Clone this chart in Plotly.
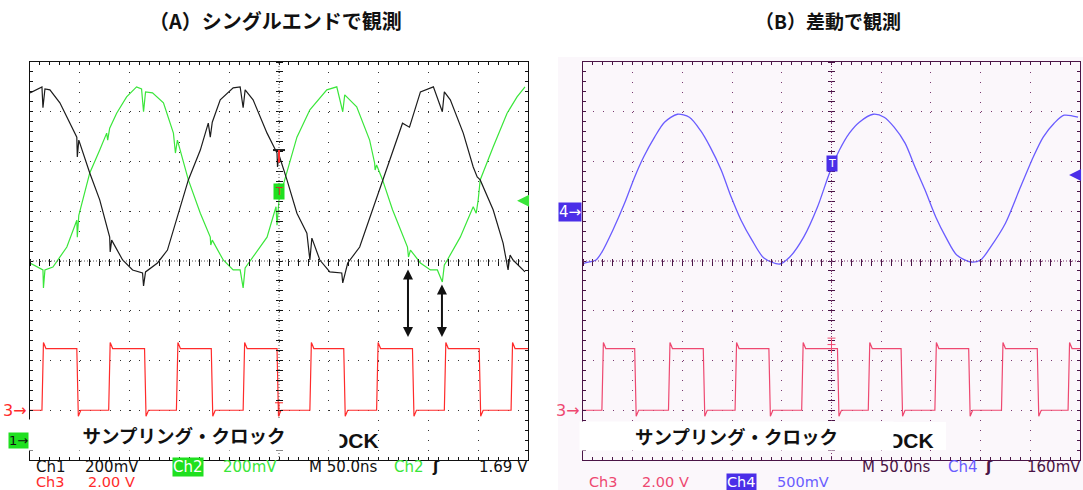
import plotly.graph_objects as go

W, H = 1083, 490

# ---------------- data (time in ns, amplitude in screen divisions) ----------------
time_range = [0, 500]
div_range = [-4, 4]

# Ch1 (black, single-ended +)
ch1_t = [0, 12, 13, 15, 20, 30, 47, 47.5, 49, 60, 70, 80, 80.5, 82, 93, 103, 113, 114, 116, 128,
         138, 148, 153, 159, 171, 179, 181, 183, 191, 204, 211, 214, 216, 224, 238, 248, 248.5, 250,
         258, 268, 278, 281, 283, 291, 301, 313, 314, 319, 331, 344, 354, 364, 374, 381, 392, 405,
         414, 416, 422, 435, 445, 449, 452, 465, 475, 480, 482, 485, 497]
ch1_v = [3.38, 3.50, 3.08, 3.46, 3.44, 3.18, 2.49, 2.09, 2.43, 1.77, 1.23, 0.48, 0.18, 0.42, 0.02,
         -0.18, -0.24, -0.50, -0.22, -0.04, 0.22, 0.88, 1.23, 1.63, 2.23, 2.77, 2.49, 2.79, 3.24,
         3.48, 3.50, 3.08, 3.44, 3.24, 2.57, 2.17, 1.89, 2.13, 1.63, 0.96, 0.56, 0.02, 0.46, 0.02,
         -0.22, -0.24, -0.44, -0.04, 0.28, 1.03, 1.63, 2.17, 2.77, 2.69, 3.40, 3.50, 3.00, 3.40,
         3.24, 2.57, 1.89, 1.69, 1.63, 1.03, 0.36, -0.18, 0.12, 0.02, -0.22]

# Ch2 (green, single-ended -)
ch2_t = [0, 13, 13.5, 15, 23, 37, 47, 47.5, 49, 60, 70, 77, 78, 80, 87, 97, 107, 112, 114, 116,
         123, 134, 144, 146, 148, 159, 171, 181, 181.5, 183, 194, 204, 211, 214, 216, 224, 238,
         247, 248, 250, 258, 268, 281, 298, 308, 314, 316, 328, 341, 346, 346.5, 348, 354, 364,
         379, 380, 382, 392, 402, 409, 414, 416, 419, 432, 445, 448, 450, 452, 465, 479, 489, 497]
ch2_v = [-0.04, -0.18, -0.54, -0.18, -0.12, 0.28, 0.82, 0.48, 0.92, 1.77, 2.23, 2.57, 2.43, 2.67,
         2.97, 3.30, 3.50, 3.46, 3.00, 3.40, 3.38, 3.18, 2.57, 2.17, 2.43, 1.63, 0.96, 0.48, 0.32,
         0.42, 0.02, -0.18, -0.18, -0.54, -0.14, 0.08, 0.48, 1.09, 0.72, 1.23, 1.77, 2.49, 3.04,
         3.44, 3.50, 3.00, 3.34, 3.10, 2.43, 1.97, 1.83, 1.93, 1.63, 1.03, 0.28, 0.08, 0.22, -0.04,
         -0.18, -0.18, -0.42, -0.08, 0.02, 0.48, 1.09, 0.96, 1.23, 1.63, 2.29, 2.97, 3.30, 3.50]

# Ch4 (blue, differential)
ch4_t = [0, 2, 13, 19, 30, 42, 52, 61, 72, 82, 95, 107, 118, 128, 139, 149, 159, 170, 182, 198,
         208, 222, 236, 248, 258, 268, 278, 292, 303, 313, 324, 334, 344, 355, 365, 376, 390, 400,
         410, 425, 439, 453, 463, 474, 484, 498]
ch4_v = [-0.06, -0.04, 0.02, 0.18, 0.62, 1.17, 1.69, 2.09, 2.49, 2.79, 2.95, 2.89, 2.63, 2.29,
         1.83, 1.29, 0.82, 0.42, 0.06, -0.06, 0.08, 0.48, 1.09, 1.77, 2.23, 2.57, 2.79, 2.95, 2.89,
         2.69, 2.37, 1.89, 1.43, 0.88, 0.48, 0.12, -0.02, 0.02, 0.28, 0.76, 1.43, 2.09, 2.49, 2.77,
         2.93, 2.89]

# Ch3 sampling clock edges (ns) and levels (div)
clk_a_rise = [12, 79, 147, 214, 281, 348, 416, 483]
clk_a_fall = [47, 115, 182, 248, 315, 384, 451]
clk_b_rise = [19, 86, 153, 220, 287, 354, 421, 488]
clk_b_fall = [52, 121, 187, 256, 320, 388, 457]
clk_high = -1.76
clk_low = -3.0
clk_over = -1.64
clk_under = -3.12

# double arrows in panel A (ns, div)
arrow_t = [379.5, 413.6]
arrow_top = [-0.14, -0.44]
arrow_bottom = -1.53

trig_level_a = 1.21
trig_level_b = 1.73
trig_box_a = 1.39
trig_box_b = 1.95

title_a = "（A）シングルエンドで観測"
title_b = "（B）差動で観測"
label_jp = "サンプリング・クロック"
label_en = "CLOCK"

# ---------------- styling ----------------
BLACK = "#1c1c1c"
GREEN = "#3ae63a"
GREEN_BOX = "#1fe01f"
RED_A = "#ff2b2b"
RED_B = "#ee4870"
BLUE = "#6a5cff"
BLUE_BOX = "#4a2ee8"
LFRAME = "#111111"
LGRID = "#333333"
RFRAME = "#4a1446"
RGRID = "#7a3a70"
LAV = "#fbf7fb"
MONO = "DejaVu Sans"
JP = "Noto Sans CJK JP"


def PX(x):
    return x / W


def PY(y):
    return 1 - y / H


def clock_wave(rises, falls, t_end=500):
    edges = sorted([(t, 1) for t in rises] + [(t, 0) for t in falls])
    ts = [0]
    vs = [clk_low if edges[0][1] == 1 else clk_high]
    for t, up in edges:
        ts += [t, t + 1.5, t + 4]
        if up:
            vs += [clk_low, clk_over, clk_high]
        else:
            vs += [clk_high, clk_under, clk_low]
    ts.append(t_end)
    vs.append(clk_high if edges[-1][1] else clk_low)
    return ts, vs


ca_t, ca_v = clock_wave(clk_a_rise, clk_a_fall)
cb_t, cb_v = clock_wave(clk_b_rise, clk_b_fall)

fig = go.Figure()
fig.add_trace(go.Scatter(x=ch2_t, y=ch2_v, mode="lines", line=dict(color=GREEN, width=1.2), xaxis="x", yaxis="y"))
fig.add_trace(go.Scatter(x=ch1_t, y=ch1_v, mode="lines", line=dict(color=BLACK, width=1.2), xaxis="x", yaxis="y"))
fig.add_trace(go.Scatter(x=ca_t, y=ca_v, mode="lines", line=dict(color=RED_A, width=1.2), xaxis="x", yaxis="y"))
fig.add_trace(go.Scatter(x=ch4_t, y=ch4_v, mode="lines", line=dict(color=BLUE, width=1.3, shape="spline", smoothing=0.8), xaxis="x2", yaxis="y2"))
fig.add_trace(go.Scatter(x=cb_t, y=cb_v, mode="lines", line=dict(color=RED_B, width=1.2), xaxis="x2", yaxis="y2"))
# carriers for the centre-line tick axes
fig.add_trace(go.Scatter(x=[None], y=[None], xaxis="x3", yaxis="y3"))
fig.add_trace(go.Scatter(x=[None], y=[None], xaxis="x4", yaxis="y4"))

ydom = [PY(460), PY(62)]
xdom_a = [PX(30), PX(528)]
xdom_b = [PX(583), PX(1080)]
DOT = "1px,8.95px"


def xax(dom, frame, grid):
    return dict(domain=dom, range=time_range, dtick=50, tick0=0, showgrid=True, gridcolor=grid,
                griddash=DOT, gridwidth=1, ticks="inside", ticklen=3, tickcolor=frame,
                minor=dict(dtick=10, ticks="inside", ticklen=3, tickcolor=frame, showgrid=False),
                showticklabels=False, showline=True, linecolor=frame, linewidth=1, mirror="ticks",
                zeroline=False, fixedrange=True)


def yax(dom, frame, grid, anchor):
    return dict(domain=dom, range=div_range, dtick=1, tick0=0, showgrid=True, gridcolor=grid,
                griddash=DOT, gridwidth=1, ticks="inside", ticklen=3, tickcolor=frame,
                minor=dict(dtick=0.2, ticks="inside", ticklen=3, tickcolor=frame, showgrid=False),
                showticklabels=False, showline=True, linecolor=frame, linewidth=1, mirror="ticks",
                zeroline=False, fixedrange=True, anchor=anchor)


def cx(over, frame):
    return dict(overlaying=over, anchor="free", position=PY(261 - 3.5), side="bottom", range=time_range,
                dtick=10, tick0=0, ticks="outside", ticklen=7, tickcolor=frame, showticklabels=False,
                showgrid=False, zeroline=False, showline=False, fixedrange=True)


def cy(over, frame, xc):
    return dict(overlaying=over, anchor="free", position=PX(xc + 3.5), side="left", range=div_range,
                dtick=0.2, tick0=0, ticks="outside", ticklen=7, tickcolor=frame, showticklabels=False,
                showgrid=False, zeroline=False, showline=False, fixedrange=True)


fig.update_layout(
    width=W, height=H, margin=dict(l=0, r=0, t=0, b=0),
    paper_bgcolor="white", plot_bgcolor="rgba(0,0,0,0)", showlegend=False,
    xaxis=dict(xax(xdom_a, LFRAME, LGRID), anchor="y"),
    yaxis=yax(ydom, LFRAME, LGRID, "x"),
    xaxis2=dict(xax(xdom_b, RFRAME, RGRID), anchor="y2"),
    yaxis2=yax(ydom, RFRAME, RGRID, "x2"),
    xaxis3=cx("x", LFRAME),
    yaxis3=cy("y", LFRAME, 279),
    xaxis4=cx("x2", RFRAME),
    yaxis4=cy("y2", RFRAME, 831.5),
)

shapes = [
    # lavender screen background of panel B
    dict(type="rect", xref="paper", yref="paper", x0=PX(558), x1=1, y0=0, y1=PY(57),
         fillcolor=LAV, line=dict(width=0), layer="below"),
    # dense centre lines
    dict(type="line", xref="x", yref="y", x0=0, x1=500, y0=0, y1=0, line=dict(color="#555", width=1, dash="1px,2px")),
    dict(type="line", xref="x", yref="y", x0=250, x1=250, y0=-4, y1=4, line=dict(color="#555", width=1, dash="1px,2px")),
    dict(type="line", xref="x2", yref="y2", x0=0, x1=500, y0=0, y1=0, line=dict(color=RGRID, width=1, dash="1px,2px")),
    dict(type="line", xref="x2", yref="y2", x0=250, x1=250, y0=-4, y1=4, line=dict(color=RGRID, width=1, dash="1px,2px")),
    # trigger position marks
    dict(type="line", xref="x", yref="y", x0=244, x1=256, y0=2.23, y1=2.23, line=dict(color=BLACK, width=2)),
    dict(type="line", xref="x", yref="y", x0=250, x1=250, y0=2.23, y1=1.98, line=dict(color=RED_A, width=2)),
    dict(type="line", xref="x", yref="y", x0=250, x1=250, y0=-2.85, y1=-3.12, line=dict(color=RED_A, width=1)),
    dict(type="line", xref="x", yref="y", x0=246, x1=254, y0=-2.85, y1=-2.85, line=dict(color=RED_A, width=1)),
    dict(type="line", xref="x2", yref="y2", x0=250, x1=250, y0=-1.55, y1=-1.85, line=dict(color=RED_B, width=1)),
    dict(type="line", xref="x2", yref="y2", x0=246, x1=254, y0=-1.55, y1=-1.55, line=dict(color=RED_B, width=1)),
    dict(type="line", xref="x2", yref="y2", x0=246, x1=254, y0=-1.68, y1=-1.68, line=dict(color=RED_B, width=1)),
    # white label boxes
    dict(type="rect", xref="paper", yref="paper", x0=PX(29), x1=PX(339), y0=PY(450), y1=PY(420),
         fillcolor="white", line=dict(width=0), layer="above"),
    dict(type="rect", xref="paper", yref="paper", x0=PX(580), x1=PX(946), y0=PY(450), y1=PY(422),
         fillcolor="white", line=dict(width=0), layer="above"),
]
fig.update_layout(shapes=shapes)

ann = []


def txt(x, y, s, color, size=15, anchor="left", family=MONO, bg=None, **kw):
    d = dict(xref="paper", yref="paper", x=PX(x), y=PY(y), text=s, showarrow=False, xanchor=anchor,
             yanchor="middle", font=dict(family=family, size=size, color=color), borderpad=1)
    if bg:
        d["bgcolor"] = bg
    d.update(kw)
    ann.append(d)


# titles
txt(275, 21, "<b>" + title_a + "</b>", "#111", size=20, anchor="center", family=JP)
txt(828, 21, "<b>" + title_b + "</b>", "#111", size=19, anchor="center", family=JP)

# label text: CLOCK partially hidden by the Japanese label box
txt(381, 440, "<b>" + label_en + "</b>", "#111", size=21, anchor="right", family="Liberation Sans")
txt(184, 434.5, "<b>" + label_jp + "</b>", "#111", size=18.5, anchor="center", family=JP,
    bg="white", width=310, height=30, borderpad=0)
txt(936, 440, "<b>" + label_en + "</b>", "#111", size=21, anchor="right", family="Liberation Sans")
txt(736.5, 435.5, "<b>" + label_jp + "</b>", "#111", size=18.5, anchor="center", family=JP,
    bg="white", width=313, height=28, borderpad=0)

# channel ground markers
txt(29, 410, "3→", RED_A, size=16, anchor="right")
txt(29, 440, "1→", "#111", size=13, anchor="right", bg=GREEN_BOX, borderpad=0)
txt(582, 410, "3→", RED_B, size=16, anchor="right")
txt(582, 212, "4→", "white", size=15, anchor="right", bg=BLUE_BOX, borderpad=0)

# trigger boxes
ann.append(dict(xref="x", yref="y", x=250, y=trig_box_a, text="T", showarrow=False,
                font=dict(family=MONO, size=11, color="#d03030"), bgcolor=GREEN_BOX, borderpad=1))
ann.append(dict(xref="x2", yref="y2", x=250, y=trig_box_b, text="T", showarrow=False,
                font=dict(family=MONO, size=11, color="white"), bgcolor=BLUE_BOX, borderpad=1))

# trigger level arrows at right edge
ann.append(dict(xref="x", yref="y", axref="x", ayref="y", x=489, y=trig_level_a, ax=500, ay=trig_level_a,
                text="", showarrow=True, arrowhead=2, arrowsize=1.2, arrowwidth=2, arrowcolor=GREEN))
ann.append(dict(xref="x2", yref="y2", axref="x2", ayref="y2", x=489, y=trig_level_b, ax=502, ay=trig_level_b,
                text="", showarrow=True, arrowhead=2, arrowsize=1.2, arrowwidth=2, arrowcolor=BLUE_BOX))

# double arrows
for t, top in zip(arrow_t, arrow_top):
    ann.append(dict(xref="x", yref="y", axref="x", ayref="y", x=t, y=arrow_bottom, ax=t, ay=top,
                    text="", showarrow=True, arrowhead=2, startarrowhead=2, arrowside="end+start",
                    arrowsize=1, arrowwidth=2, arrowcolor="#111"))

# status lines, panel A
L1, L2 = 466.5, 481.5
txt(34, L1, "Ch1", "#111")
txt(83, L1, "200mV", "#111")
txt(172, L1, "Ch2", "white", bg=GREEN_BOX, borderpad=0)
txt(221, L1, "200mV", GREEN)
txt(307, L1, "M 50.0ns", "#111")
txt(392, L1, "Ch2", GREEN)
txt(430, L1, "<b>ʃ</b>", "#111")
txt(477, L1, "1.69 V", "#111")
txt(34, L2, "Ch3", RED_A, size=14.5)
txt(86, L2, "2.00 V", RED_A, size=14.5)

# status lines, panel B
txt(860, L1, "M 50.0ns", RFRAME)
txt(946, L1, "Ch4", BLUE)
txt(983, L1, "<b>ʃ</b>", RFRAME)
txt(1025, L1, "160mV", RFRAME)
txt(587, L2, "Ch3", RED_B, size=14.5)
txt(640, L2, "2.00 V", RED_B, size=14.5)
txt(726, L2, "Ch4", "white", size=14.5, bg=BLUE_BOX, borderpad=0)
txt(775, L2, "500mV", BLUE, size=14.5)

fig.update_layout(annotations=ann)
fig.write_html("out.html", config={"displayModeBar": False},
               post_script="document.body.style.margin='0';document.body.style.overflow='hidden';")
